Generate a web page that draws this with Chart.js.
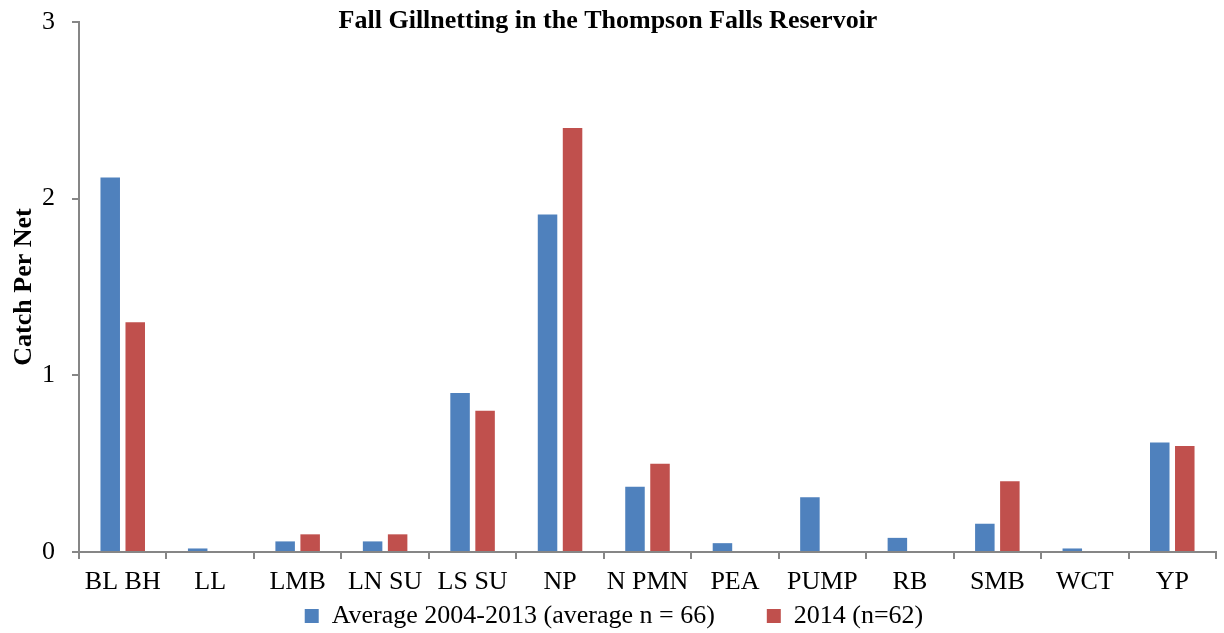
<!DOCTYPE html>
<html>
<head>
<meta charset="utf-8">
<title>Fall Gillnetting in the Thompson Falls Reservoir</title>
<script src="https://cdn.jsdelivr.net/npm/chart.js@4/dist/chart.umd.min.js"></script>
<style>
  html, body { margin: 0; padding: 0; background: #fff; }
  #wrap { width: 1224px; height: 633px; position: relative; }
</style>
</head>
<body>
<div id="wrap"><canvas id="chart"></canvas></div>
<script>
// Data
const species = ['BL BH', 'LL', 'LMB', 'LN SU', 'LS SU', 'NP', 'N PMN', 'PEA', 'PUMP', 'RB', 'SMB', 'WCT', 'YP'];
const avg0413 = [2.12, 0.02, 0.06, 0.06, 0.90, 1.91, 0.37, 0.05, 0.31, 0.08, 0.16, 0.02, 0.62];
const catch2014 = [1.30, 0, 0.10, 0.10, 0.80, 2.40, 0.50, 0, 0, 0, 0.40, 0, 0.60];
const yTicks = [0, 1, 2, 3];

const serif = "'Liberation Serif', 'Times New Roman', serif";
const axisGray = '#868686';

// put title and legend where the original has them (they overlap the margins)
const placeBoxes = {
  id: 'placeBoxes',
  afterLayout(chart) {
    const t = chart.titleBlock;
    if (t) { t.top = 10; t.bottom = t.top + t.height; }
    const lg = chart.legend;
    if (lg) {
      const pad = lg.options.labels.padding;
      lg.top = 603 - pad;
      lg.bottom = 640; // legend clips to its box
      lg.left += 6;
      lg.right += 6;
    }
  }
};

const ctx = document.getElementById('chart').getContext('2d');
const chart = new Chart(ctx, {
  type: 'bar',
  data: {
    labels: species,
    datasets: [{
      label: 'Average 2004-2013 (average n = 66)',
      data: avg0413,
      backgroundColor: '#4F81BD',
      categoryPercentage: 0.572,
      barPercentage: 0.78
    }, {
      label: '2014 (n=62)',
      data: catch2014,
      backgroundColor: '#C0504D',
      categoryPercentage: 0.572,
      barPercentage: 0.78
    }]
  },
  options: {
    responsive: true,
    maintainAspectRatio: false,
    animation: false,
    layout: { padding: { left: 0, right: 8, top: 0, bottom: 0 } },
    scales: {
      x: {
        grid: { display: true, drawOnChartArea: false, tickLength: 7, color: axisGray, lineWidth: 2, offset: true },
        border: { color: axisGray, width: 2 },
        ticks: { color: '#000', font: { family: serif, size: 26 }, padding: 8, maxRotation: 0, autoSkip: false },
        afterFit(scale) { scale.height = 48; }
      },
      y: {
        min: 0,
        max: 3,
        afterBuildTicks(scale) { scale.ticks = yTicks.map(v => ({ value: v })); },
        grid: { display: true, drawOnChartArea: false, tickLength: 7, color: axisGray, lineWidth: 2 },
        border: { color: axisGray, width: 2 },
        ticks: { color: '#000', font: { family: serif, size: 26 }, padding: 17 },
        title: {
          display: true,
          text: 'Catch Per Net',
          color: '#000',
          font: { family: serif, size: 26, weight: 'bold' },
          padding: { top: 9, bottom: 0 }
        },
        afterFit(scale) {
          scale.width = 79;
          scale.paddingTop = 0;
        }
      }
    },
    plugins: {
      title: {
        display: true,
        text: 'Fall Gillnetting in the Thompson Falls Reservoir',
        color: '#000',
        font: { family: serif, size: 26, weight: 'bold', lineHeight: 22 / 26 },
        padding: 0
      },
      legend: {
        position: 'bottom',
        maxHeight: 33,
        labels: {
          color: '#000',
          font: { family: serif, size: 26 },
          boxWidth: 14,
          boxHeight: 14,
          padding: 52
        }
      },
      tooltip: { enabled: true }
    }
  },
  plugins: [placeBoxes]
});
</script>
</body>
</html>
